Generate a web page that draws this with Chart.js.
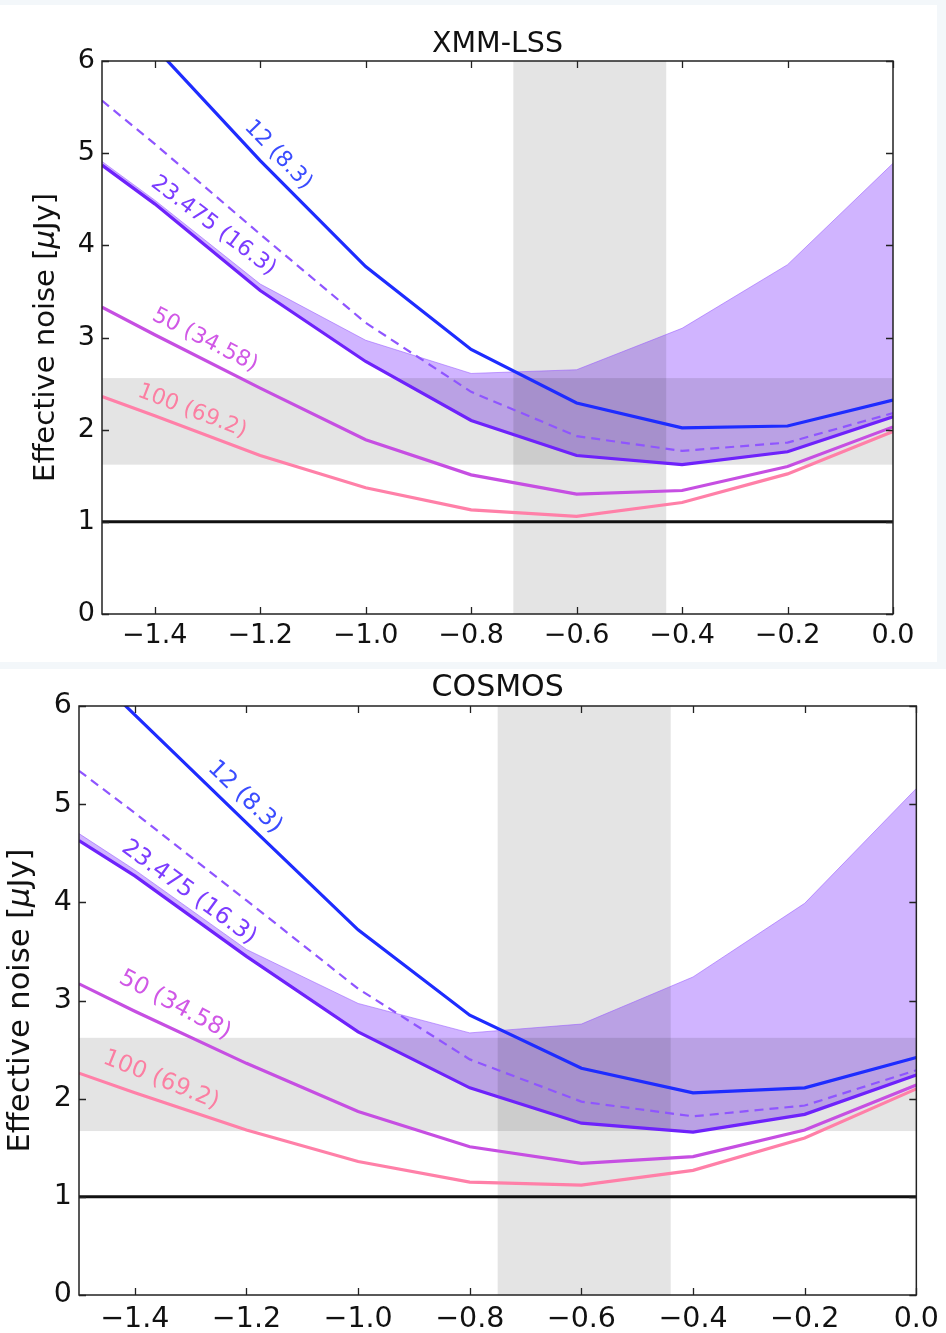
<!DOCTYPE html>
<html>
<head>
<meta charset="utf-8">
<script src="https://cdn.jsdelivr.net/npm/chart.js@4.4.1/dist/chart.umd.min.js"></script>
<style>
  html, body { margin: 0; padding: 0; background: #f3f7fa; }
  body { width: 946px; height: 1333px; position: relative; overflow: hidden; }
  .sheet { position: absolute; background: #ffffff; }
  #sheetTop { left: 0; top: 5px; width: 937px; height: 657px; }
  #sheetBottom { left: 0; top: 669px; width: 946px; height: 664px; }
  canvas { position: absolute; left: 0; }
  #xmmCanvas { top: 0; }
  #cosmosCanvas { top: 669px; }
</style>
</head>
<body>
<div class="sheet" id="sheetTop"></div>
<div class="sheet" id="sheetBottom"></div>
<canvas id="xmmCanvas" width="946" height="662"></canvas>
<canvas id="cosmosCanvas" width="946" height="664"></canvas>
<script>
// Shared grid of log-density offsets and axis ticks
const offsets = [-1.5, -1.4, -1.2, -1.0, -0.8, -0.6, -0.4, -0.2, 0.0];
const xTickValues = [-1.4, -1.2, -1.0, -0.8, -0.6, -0.4, -0.2, 0.0];
const yTickValues = [0, 1, 2, 3, 4, 5, 6];
const referenceLevel = 1;

// XMM-LSS effective noise [uJy]
const xmm_12 = [6.77, 6.15, 4.92, 3.77, 2.87, 2.29, 2.02, 2.04, 2.32];
const xmm_23_dashed = [5.57, 5.10, 4.12, 3.16, 2.41, 1.93, 1.77, 1.86, 2.18];
const xmm_23_upper = [4.91, 4.49, 3.58, 2.97, 2.61, 2.65, 3.10, 3.79, 4.89];
const xmm_23 = [4.87, 4.45, 3.51, 2.74, 2.10, 1.72, 1.62, 1.76, 2.14];
const xmm_50 = [3.33, 3.03, 2.45, 1.89, 1.51, 1.30, 1.34, 1.60, 2.03];
const xmm_100 = [2.36, 2.15, 1.72, 1.37, 1.13, 1.06, 1.21, 1.52, 1.98];
const xmm_bandX = [-0.72, -0.43];
const xmm_bandY = [1.62, 2.56];

// COSMOS effective noise [uJy]
const cosmos_12 = [6.46, 5.91, 4.81, 3.72, 2.85, 2.31, 2.06, 2.11, 2.42];
const cosmos_23_dashed = [5.34, 4.91, 4.02, 3.12, 2.40, 1.97, 1.82, 1.93, 2.29];
const cosmos_23_upper = [4.70, 4.33, 3.52, 2.97, 2.67, 2.76, 3.24, 3.99, 5.16];
const cosmos_23 = [4.63, 4.27, 3.45, 2.68, 2.11, 1.75, 1.66, 1.84, 2.24];
const cosmos_50 = [3.17, 2.89, 2.36, 1.87, 1.51, 1.34, 1.41, 1.68, 2.14];
const cosmos_100 = [2.26, 2.06, 1.68, 1.36, 1.15, 1.12, 1.27, 1.60, 2.10];
const cosmos_bandX = [-0.75, -0.44];
const cosmos_bandY = [1.67, 2.62];

const seriesLabels = ['12 (8.3)', '23.475 (16.3)', '50 (34.58)', '100 (69.2)'];

const COLORS = {
  c12: '#1e2cff',
  c23: '#6e22fb',
  c23dash: '#8f55ff',
  c50: '#c64fe2',
  c100: '#ff80a8',
  fill: 'rgba(150, 88, 255, 0.45)',
  fillEdge: 'rgba(150, 88, 255, 0.55)',
  band: 'rgba(0, 0, 0, 0.105)',
  axis: '#222222',
  txt12: '#3a4cff',
  txt23: '#7c3cff',
  txt50: '#d058e6',
  txt100: '#fb7fa2'
};

const FONT = 'DejaVu Sans, Verdana, sans-serif';

function pts(ys) {
  return offsets.map((x, i) => ({ x: x, y: ys[i] }));
}

function fmtTick(v) {
  const s = Math.abs(v).toFixed(1);
  return (v < -1e-9 ? '\u2212' : '') + s;
}

// Axis label with an italic mu, drawn centred at the origin
function drawYLabel(ctx, size) {
  const parts = [
    { t: 'Effective noise [', f: size + 'px ' + FONT },
    { t: '\u03bc', f: 'italic ' + size + 'px ' + FONT },
    { t: 'Jy]', f: size + 'px ' + FONT }
  ];
  let total = 0;
  parts.forEach(p => { ctx.font = p.f; p.w = ctx.measureText(p.t).width; total += p.w; });
  let cx = -total / 2;
  ctx.textAlign = 'left';
  parts.forEach(p => { ctx.font = p.f; ctx.fillText(p.t, cx, 0); cx += p.w; });
}

// Bands, frame, inward ticks, rotated curve labels, title and y label
const panelDecor = {
  id: 'panelDecor',
  beforeDatasetsDraw(chart, args, o) {
    const { ctx, chartArea: a, scales: { x, y } } = chart;
    ctx.save();
    ctx.beginPath();
    ctx.rect(a.left, a.top, a.right - a.left, a.bottom - a.top);
    ctx.clip();
    ctx.fillStyle = COLORS.band;
    const x0 = x.getPixelForValue(o.bandX[0]), x1 = x.getPixelForValue(o.bandX[1]);
    ctx.fillRect(x0, a.top, x1 - x0, a.bottom - a.top);
    const y0 = y.getPixelForValue(o.bandY[1]), y1 = y.getPixelForValue(o.bandY[0]);
    ctx.fillRect(a.left, y0, a.right - a.left, y1 - y0);
    ctx.restore();
  },
  afterDatasetsDraw(chart, args, o) {
    const { ctx, chartArea: a, scales: { x, y } } = chart;
    ctx.save();
    // curve labels
    o.curveLabels.forEach(l => {
      ctx.save();
      ctx.translate(x.getPixelForValue(l.x), y.getPixelForValue(l.y));
      ctx.rotate(l.angle * Math.PI / 180);
      ctx.font = o.labelFont + 'px ' + FONT;
      ctx.fillStyle = l.color;
      ctx.textAlign = 'center';
      ctx.textBaseline = 'middle';
      ctx.fillText(l.text, 0, 0);
      ctx.restore();
    });
    // frame
    ctx.strokeStyle = COLORS.axis;
    ctx.lineWidth = 1.5;
    ctx.strokeRect(a.left, a.top, a.right - a.left, a.bottom - a.top);
    // inward ticks on all sides
    const tl = 7;
    ctx.lineWidth = 1.3;
    ctx.beginPath();
    xTickValues.forEach(v => {
      const px = Math.round(x.getPixelForValue(v)) + 0.5;
      ctx.moveTo(px, a.bottom); ctx.lineTo(px, a.bottom - tl);
      ctx.moveTo(px, a.top); ctx.lineTo(px, a.top + tl);
    });
    yTickValues.forEach(v => {
      const py = Math.round(y.getPixelForValue(v)) + 0.5;
      ctx.moveTo(a.left, py); ctx.lineTo(a.left + tl, py);
      ctx.moveTo(a.right, py); ctx.lineTo(a.right - tl, py);
    });
    ctx.stroke();
    // title
    ctx.fillStyle = '#111';
    ctx.font = o.titleFont + 'px ' + FONT;
    ctx.textAlign = 'center';
    ctx.textBaseline = 'alphabetic';
    ctx.fillText(o.title, (a.left + a.right) / 2, o.titleBaseline);
    // y-axis label
    ctx.save();
    ctx.translate(o.yLabelX, (a.top + a.bottom) / 2);
    ctx.rotate(-Math.PI / 2);
    ctx.textBaseline = 'middle';
    drawYLabel(ctx, o.yLabelFont);
    ctx.restore();
    ctx.restore();
  }
};

function buildPanel(canvasId, p) {
  const canvas = document.getElementById(canvasId);
  const W = canvas.width, H = canvas.height;
  const line = (data, color, width, extra) => Object.assign({
    data: pts(data), borderColor: color, borderWidth: width,
    pointRadius: 0, tension: 0, fill: false
  }, extra || {});
  const datasets = [
    line(p.s12, COLORS.c12, 3.2),
    line(p.s23dash, COLORS.c23dash, 2.2, { borderDash: [9, 6] }),
    line(p.s23upper, COLORS.fillEdge, 1, { fill: '+1', backgroundColor: COLORS.fill }),
    line(p.s23, COLORS.c23, 3.2),
    line(p.s50, COLORS.c50, 3.2),
    line(p.s100, COLORS.c100, 3.2),
    {
      data: [{ x: offsets[0], y: referenceLevel }, { x: offsets[offsets.length - 1], y: referenceLevel }],
      borderColor: '#111', borderWidth: 3, pointRadius: 0, fill: false
    }
  ];
  return new Chart(canvas, {
    type: 'line',
    data: { datasets },
    options: {
      responsive: false,
      animation: false,
      devicePixelRatio: 1,
      layout: { padding: { left: 0, top: p.area.top, right: W - p.area.right, bottom: 0 } },
      plugins: {
        legend: { display: false },
        tooltip: { enabled: false },
        filler: { drawTime: 'beforeDatasetsDraw' },
        panelDecor: {
          bandX: p.bandX, bandY: p.bandY, curveLabels: p.curveLabels,
          labelFont: p.labelFont, title: p.title, titleFont: p.titleFont,
          titleBaseline: p.titleBaseline, yLabelX: p.yLabelX, yLabelFont: p.yLabelFont
        }
      },
      scales: {
        x: {
          type: 'linear', min: offsets[0], max: offsets[offsets.length - 1],
          grid: { display: false, drawTicks: false },
          border: { display: false },
          afterBuildTicks: s => { s.ticks = xTickValues.map(v => ({ value: v })); },
          afterFit: s => { s.height = H - p.area.bottom; },
          ticks: {
            autoSkip: false, maxRotation: 0, padding: p.xTickPad, color: '#111',
            font: { family: FONT, size: p.tickFont },
            callback: v => fmtTick(v)
          }
        },
        y: {
          type: 'linear', min: yTickValues[0], max: yTickValues[yTickValues.length - 1],
          grid: { display: false, drawTicks: false },
          border: { display: false },
          afterBuildTicks: s => { s.ticks = yTickValues.map(v => ({ value: v })); },
          afterFit: s => { s.width = p.area.left; },
          ticks: {
            padding: 7, color: '#111',
            font: { family: FONT, size: p.tickFont },
            callback: v => String(v)
          }
        }
      }
    },
    plugins: [panelDecor]
  });
}

buildPanel('xmmCanvas', {
  title: 'XMM-LSS', titleFont: 28.5, titleBaseline: 52,
  area: { left: 102, right: 893, top: 61, bottom: 614 },
  tickFont: 27, xTickPad: 6, labelFont: 22, yLabelX: 46, yLabelFont: 29,
  s12: xmm_12, s23dash: xmm_23_dashed, s23upper: xmm_23_upper, s23: xmm_23,
  s50: xmm_50, s100: xmm_100, bandX: xmm_bandX, bandY: xmm_bandY,
  curveLabels: [
    { text: seriesLabels[0], x: -1.166, y: 4.98, angle: 46, color: COLORS.txt12 },
    { text: seriesLabels[1], x: -1.289, y: 4.21, angle: 37, color: COLORS.txt23 },
    { text: seriesLabels[2], x: -1.305, y: 2.97, angle: 27, color: COLORS.txt50 },
    { text: seriesLabels[3], x: -1.329, y: 2.20, angle: 21, color: COLORS.txt100 }
  ]
});

buildPanel('cosmosCanvas', {
  title: 'COSMOS', titleFont: 30, titleBaseline: 27,
  area: { left: 79, right: 918, top: 37, bottom: 626 },
  tickFont: 28.5, xTickPad: 7, labelFont: 23.5, yLabelX: 21, yLabelFont: 30.5,
  s12: cosmos_12, s23dash: cosmos_23_dashed, s23upper: cosmos_23_upper, s23: cosmos_23,
  s50: cosmos_50, s100: cosmos_100, bandX: cosmos_bandX, bandY: cosmos_bandY,
  curveLabels: [
    { text: seriesLabels[0], x: -1.203, y: 5.07, angle: 44, color: COLORS.txt12 },
    { text: seriesLabels[1], x: -1.303, y: 4.10, angle: 36, color: COLORS.txt23 },
    { text: seriesLabels[2], x: -1.328, y: 2.95, angle: 28, color: COLORS.txt50 },
    { text: seriesLabels[3], x: -1.353, y: 2.19, angle: 22, color: COLORS.txt100 }
  ]
});
</script>
</body>
</html>
